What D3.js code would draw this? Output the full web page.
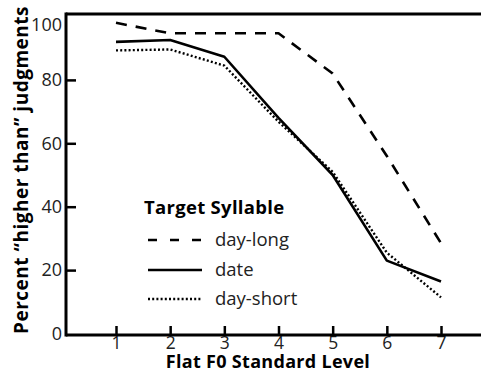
<!DOCTYPE html>
<html><head><meta charset="utf-8">
<script src="https://cdn.jsdelivr.net/npm/d3@7"></script>
<style>body{margin:0;background:#fff}svg{display:block}</style>
</head><body>
<svg id="c" width="481" height="373"></svg>
<script>
const levels = [1, 2, 3, 4, 5, 6, 7];
const dayLong = [98, 94.7, 94.7, 94.7, 82, 56, 28.5];
const date = [92, 92.6, 87.3, 68, 50, 23, 16.4];
const dayShort = [89.3, 89.6, 84.5, 66.8, 51, 25.5, 11.4];
const yTicks = [0, 20, 40, 60, 80, 100];
const seriesNames = ["day-long", "date", "day-short"];
const legendTitle = "Target Syllable";
const xTitle = "Flat F0 Standard Level";
const yTitle = "Percent \u201Chigher than\u201D judgments";

const font = "'Open Sans', sans-serif";
const svg = d3.select("#c");
const x = d3.scaleLinear().domain([1, 7]).range([116, 441]);
const y = d3.scaleLinear().domain([0, 100]).range([333.5, 16.5]);
const axisX = 66, bottomY = 335, topY = 14;

const styles = [
  {dash: "11,9", width: 2.6},
  {dash: null, width: 2.6},
  {dash: "2,2.2", width: 2.4}
];
const series = [dayLong, date, dayShort];

// axes
const ya = svg.append("g").attr("transform", `translate(${axisX},0)`)
  .call(d3.axisLeft(y).tickValues(yTicks).tickSize(-10).tickPadding(4).tickFormat(d3.format("d")));
ya.select(".domain").remove();
ya.selectAll(".tick line").attr("stroke", "#000").attr("stroke-width", 2.5);
ya.selectAll(".tick text").attr("font-family", font).attr("font-size", 18).attr("fill", "#222");
ya.selectAll(".tick").filter(d => d === 100 || d === 0).select("line").remove();
ya.selectAll(".tick").filter(d => d === 100).select("text").attr("dy", "0.75em");

const xa = svg.append("g").attr("transform", `translate(0,${bottomY})`)
  .call(d3.axisBottom(x).tickValues(levels).tickSize(-9).tickPadding(2).tickFormat(d3.format("d")));
xa.select(".domain").remove();
xa.selectAll(".tick line").attr("stroke", "#000").attr("stroke-width", 2.5);
xa.selectAll(".tick text").attr("font-family", font).attr("font-size", 17.5).attr("fill", "#222");

// frame lines
svg.append("line").attr("x1", axisX).attr("x2", 481).attr("y1", topY).attr("y2", topY)
  .attr("stroke", "#000").attr("stroke-width", 3);
svg.append("line").attr("x1", axisX).attr("x2", 481).attr("y1", bottomY).attr("y2", bottomY)
  .attr("stroke", "#000").attr("stroke-width", 3);
svg.append("line").attr("x1", axisX).attr("x2", axisX).attr("y1", topY - 1.5).attr("y2", bottomY + 1.5)
  .attr("stroke", "#000").attr("stroke-width", 3);

// lines
const line = d3.line().x((d, i) => x(levels[i])).y(d => y(d));
series.forEach((s, k) => {
  svg.append("path").attr("d", line(s)).attr("fill", "none").attr("stroke", "#000")
    .attr("stroke-width", styles[k].width).attr("stroke-dasharray", styles[k].dash)
    .attr("stroke-linejoin", "round");
});

// legend
svg.append("text").attr("x", 144).attr("y", 214).text(legendTitle)
  .attr("font-family", font).attr("font-weight", "bold").attr("font-size", 18.5)
  .attr("letter-spacing", 0.3).attr("fill", "#000");
const legY = [240, 270, 299];
const legDash = ["9,13", null, "2,2.2"];
seriesNames.forEach((n, k) => {
  svg.append("line").attr("x1", 148).attr("x2", 202).attr("y1", legY[k]).attr("y2", legY[k])
    .attr("stroke", "#000").attr("stroke-width", styles[k].width).attr("stroke-dasharray", legDash[k]);
  svg.append("text").attr("x", 215).attr("y", legY[k] + 6).text(n)
    .attr("font-family", font).attr("font-size", 18.5).attr("fill", "#222");
});

// titles
svg.append("text").attr("x", 268).attr("y", 368).attr("text-anchor", "middle").text(xTitle)
  .attr("font-family", font).attr("font-weight", "bold").attr("font-size", 18)
  .attr("letter-spacing", 0.3).attr("fill", "#000");
svg.append("text").attr("transform", "translate(28,170) rotate(-90)").attr("text-anchor", "middle").text(yTitle)
  .attr("font-family", font).attr("font-weight", "bold").attr("font-size", 19)
  .attr("letter-spacing", 0.5).attr("fill", "#000");
</script>
</body></html>
